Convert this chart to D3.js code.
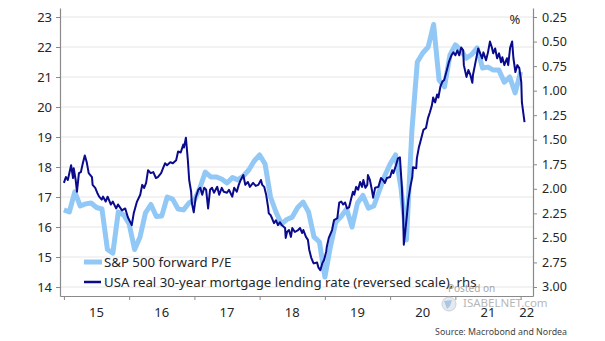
<!DOCTYPE html>
<html><head><meta charset="utf-8">
<script src="https://cdn.jsdelivr.net/npm/d3@7"></script>
<style>
body{margin:0;background:#fff}
svg{display:block}
text{font-family:"Noto Sans",sans-serif}
</style>
</head><body>
<svg id="chart" width="605" height="341"></svg>
<script>
// ---- DATA ----
const peMonths = [
"2015-01","2015-02","2015-03","2015-04","2015-05","2015-06","2015-07","2015-08","2015-09","2015-10","2015-11","2015-12",
"2016-01","2016-02","2016-03","2016-04","2016-05","2016-06","2016-07","2016-08","2016-09","2016-10","2016-11","2016-12",
"2017-01","2017-02","2017-03","2017-04","2017-05","2017-06","2017-07","2017-08","2017-09","2017-10","2017-11","2017-12",
"2018-01","2018-02","2018-03","2018-04","2018-05","2018-06","2018-07","2018-08","2018-09","2018-10","2018-11","2018-12",
"2019-01","2019-02","2019-03","2019-04","2019-05","2019-06","2019-07","2019-08","2019-09","2019-10","2019-11","2019-12",
"2020-01","2020-02","2020-03","2020-04","2020-05","2020-06","2020-07","2020-08","2020-09","2020-10","2020-11","2020-12",
"2021-01","2021-02","2021-03","2021-04","2021-05","2021-06","2021-07","2021-08","2021-09","2021-10","2021-11","2021-12",
"2022-01"];
const peValues = [
16.57,16.50,17.17,16.70,16.77,16.80,16.65,16.60,15.25,15.13,16.50,16.40,
16.10,15.25,15.67,16.47,16.75,16.35,16.37,17.00,16.93,16.60,16.57,16.80,
16.90,17.30,17.83,17.67,17.67,17.60,17.47,17.65,17.57,17.70,17.90,18.20,
18.40,18.10,17.00,16.50,16.10,16.25,16.33,16.65,16.83,16.50,15.67,15.50,
14.33,15.33,16.17,16.35,16.60,16.00,16.80,17.05,16.63,16.70,17.20,17.70,
18.10,18.40,17.30,15.57,19.20,21.50,21.80,22.00,22.75,20.90,20.67,21.73,
22.07,21.90,21.63,21.75,21.97,21.30,21.33,21.23,21.23,20.83,21.00,20.47,
21.17];

// dates as decimal years
const mortDates = [
2015.00,2015.03,2015.06,2015.11,2015.14,2015.15,2015.18,2015.20,2015.23,2015.26,2015.29,2015.32,2015.35,2015.38,2015.43,2015.44,2015.48,2015.51,2015.54,2015.58,2015.60,2015.64,2015.67,2015.72,2015.75,2015.80,2015.83,2015.89,2015.94,2015.98,
2016.04,2016.07,2016.12,2016.17,2016.20,2016.23,2016.26,2016.29,2016.33,2016.37,2016.41,2016.44,2016.49,2016.52,2016.55,2016.58,2016.63,2016.67,2016.72,2016.75,2016.79,2016.83,2016.84,2016.87,2016.90,2016.92,2016.95,2016.96,2016.99,
2017.02,2017.06,2017.09,2017.12,2017.15,2017.18,2017.21,2017.24,2017.27,2017.30,2017.35,2017.38,2017.42,2017.45,2017.50,2017.53,2017.58,2017.61,2017.65,2017.68,2017.71,2017.75,2017.78,2017.82,2017.85,2017.90,2017.94,2017.98,
2018.02,2018.04,2018.07,2018.10,2018.13,2018.14,2018.17,2018.19,2018.22,2018.25,2018.28,2018.31,2018.34,2018.39,2018.40,2018.42,2018.45,2018.48,2018.50,2018.54,2018.59,2018.62,2018.65,2018.67,2018.71,2018.74,2018.76,2018.79,2018.82,2018.83,2018.88,2018.90,2018.93,2018.96,2018.99,
2019.02,2019.03,2019.06,2019.11,2019.14,2019.19,2019.22,2019.25,2019.28,2019.31,2019.34,2019.37,2019.40,2019.43,2019.45,2019.48,2019.51,2019.54,2019.57,2019.59,2019.62,2019.65,2019.66,2019.69,2019.72,2019.74,2019.77,2019.82,2019.86,2019.89,2019.92,2019.95,
2020.00,2020.03,2020.05,2020.09,2020.12,2020.15,2020.18,2020.20,2020.21,2020.23,2020.26,2020.28,2020.31,2020.34,2020.35,2020.40,2020.41,2020.44,2020.46,2020.51,2020.55,2020.58,2020.61,2020.64,2020.66,2020.69,2020.72,2020.74,2020.77,2020.80,2020.83,2020.87,2020.90,2020.94,2020.97,
2021.00,2021.03,2021.06,2021.09,2021.12,2021.13,2021.17,2021.20,2021.23,2021.26,2021.27,2021.30,2021.33,2021.35,2021.38,2021.41,2021.43,2021.47,2021.50,2021.53,2021.56,2021.58,2021.61,2021.64,2021.67,2021.70,2021.72,2021.75,2021.79,2021.81,2021.84,2021.87,2021.89,2021.92,2021.95,2021.98,
2022.01,2022.02,2022.06];
const mortValues = [
1.94,1.88,1.91,1.76,1.89,1.79,1.91,2.03,1.84,1.83,1.74,1.66,1.73,1.84,1.88,1.96,1.99,2.04,2.08,2.11,2.08,2.13,2.08,2.16,2.13,2.20,2.16,2.22,2.20,2.29,
2.37,2.25,2.13,2.06,1.96,1.99,1.94,1.81,1.84,1.83,1.89,1.88,1.84,1.79,1.74,1.76,1.73,1.74,1.71,1.62,1.63,1.55,1.58,1.48,1.71,1.91,2.03,2.14,2.24,
2.09,2.01,1.99,2.06,1.99,2.01,2.20,2.01,1.99,2.04,1.98,2.06,1.99,2.03,2.04,2.01,2.08,1.99,2.03,1.96,1.91,1.86,1.96,1.93,1.98,1.94,1.97,1.96,
1.91,1.96,1.98,2.06,2.19,2.25,2.27,2.30,2.35,2.32,2.37,2.34,2.37,2.40,2.50,2.44,2.42,2.49,2.40,2.44,2.42,2.40,2.45,2.42,2.49,2.52,2.62,2.70,2.75,2.76,2.75,2.80,2.83,2.76,2.72,
2.64,2.59,2.50,2.42,2.32,2.30,2.14,2.13,2.16,2.14,2.20,2.19,2.11,2.03,2.06,1.98,2.01,1.93,1.98,1.91,1.99,1.96,1.86,1.91,2.01,2.09,1.99,1.98,1.89,1.91,1.94,1.89,
1.88,1.81,1.84,1.76,1.69,1.68,1.98,2.29,2.57,2.45,2.25,2.11,1.98,1.88,1.78,1.79,1.69,1.58,1.53,1.40,1.38,1.28,1.22,1.15,1.07,1.12,1.04,1.07,0.96,0.91,0.89,0.79,0.71,0.64,0.61,
0.64,0.59,0.64,0.56,0.59,0.74,0.86,0.79,0.84,0.92,0.84,0.74,0.64,0.57,0.62,0.67,0.61,0.69,0.61,0.50,0.56,0.62,0.57,0.67,0.62,0.71,0.66,0.74,0.67,0.74,0.56,0.50,0.67,0.81,0.74,0.77,
0.91,1.12,1.32];

const leftTicks = [14,15,16,17,18,19,20,21,22,23];
const rightTicks = [0.25,0.50,0.75,1.00,1.25,1.50,1.75,2.00,2.25,2.50,2.75,3.00];
const yearTicks = [2015,2016,2017,2018,2019,2020,2021,2022];
const yearLabels = ["15","16","17","18","19","20","21","22"];
const seriesNames = ["S&P 500 forward P/E","USA real 30-year mortgage lending rate (reversed scale), rhs"];
const sourceText = "Source: Macrobond and Nordea";
const colors = {pe:"#92c8f5", mort:"#0a0a8c", axis:"#8a8a8a", grid:"#e6e6e6", text:"#262626"};

// ---- SCALES ----
const svg = d3.select("#chart");
const xDomainEnd = 2022.19;
const x = d3.scaleLinear().domain([2014.94, xDomainEnd]).range([60, 533]);
const yL = d3.scaleLinear().domain([13.7, 23.3]).range([296, 8]);
const yR = d3.scaleLinear().domain([0.158, 3.092]).range([8, 296]);

const peData = peMonths.map((m,i)=>{const [yy,mm]=m.split("-").map(Number);return {t:yy+(mm-1)/12, v:peValues[i]};});
const mortData = mortDates.map((t,i)=>({t, v:mortValues[i]}));

// grid
svg.append("g").selectAll("line").data(leftTicks).join("line")
  .attr("x1",60).attr("x2",533)
  .attr("y1",d=>yL(d)).attr("y2",d=>yL(d))
  .attr("stroke",colors.grid).attr("stroke-width",1);

function styleAxis(g, fs){
  g.select(".domain").attr("stroke",colors.axis).attr("stroke-width",1.2);
  g.selectAll(".tick line").attr("stroke",colors.axis);
  g.selectAll(".tick text").attr("fill",colors.text).style("font-size",fs+"px").style("font-family","'Noto Sans',sans-serif");
}

const gL = svg.append("g").attr("transform","translate(60,0)")
  .call(d3.axisLeft(yL).tickValues(leftTicks).tickSize(4).tickPadding(4).tickSizeOuter(0));
styleAxis(gL,13);

const gR = svg.append("g").attr("transform","translate(533,0)")
  .call(d3.axisRight(yR).tickValues(rightTicks).tickFormat(d3.format(".2f")).tickSize(4).tickPadding(5).tickSizeOuter(0));
styleAxis(gR,12.5);

const gX = svg.append("g").attr("transform","translate(0,296)")
  .call(d3.axisBottom(x).tickValues(yearTicks).tickFormat("").tickSize(4).tickSizeOuter(0));
styleAxis(gX,13);

svg.append("g").selectAll("text").data(yearTicks).join("text")
  .attr("x",(d,i)=> i<yearTicks.length-1 ? x(d+0.5) : x((d+xDomainEnd)/2))
  .attr("y",317).attr("text-anchor","middle")
  .attr("fill",colors.text).style("font-size","13px")
  .text((d,i)=>yearLabels[i]);

// "%" unit
svg.append("text").attr("x",515).attr("y",24).attr("text-anchor","middle")
  .attr("fill",colors.text).style("font-size","13px").text("%");

// ---- LINES ----
const linePE = d3.line().x(d=>x(d.t)).y(d=>yL(d.v));
const lineM = d3.line().x(d=>x(d.t)).y(d=>yR(d.v));

svg.append("path").datum(peData).attr("d",linePE)
  .attr("fill","none").attr("stroke",colors.pe).attr("stroke-width",5)
  .attr("stroke-linejoin","round").attr("stroke-linecap","butt");
svg.append("path").datum(mortData).attr("d",lineM)
  .attr("fill","none").attr("stroke",colors.mort).attr("stroke-width",2)
  .attr("stroke-linejoin","round");

// ---- LEGEND ----
const leg = svg.append("g");
const legY = [262, 282];
leg.append("line").attr("x1",84).attr("x2",102).attr("y1",legY[0]).attr("y2",legY[0])
  .attr("stroke",colors.pe).attr("stroke-width",5);
leg.append("line").attr("x1",84).attr("x2",101).attr("y1",legY[1]).attr("y2",legY[1])
  .attr("stroke",colors.mort).attr("stroke-width",2.5);
const lt = leg.selectAll("text").data(seriesNames).join("text")
  .attr("x",104).attr("y",(d,i)=>legY[i]+5)
  .attr("fill",colors.text).style("font-size","14px").text(d=>d);
// fit legend font to measured width of long label
const l2 = lt.nodes()[1];
const w2 = l2.getComputedTextLength();
const legFs = 14*373/w2;
lt.style("font-size",legFs+"px");

// ---- SOURCE ----
const src = svg.append("text").attr("x",567).attr("y",335).attr("text-anchor","end")
  .attr("fill","#444").style("font-size","10px").text(sourceText);
const ws = src.node().getComputedTextLength();
src.style("font-size",(10*132/ws)+"px");

// ---- watermark ----
const wm = svg.append("g").attr("opacity",0.75);
wm.append("circle").attr("cx",449).attr("cy",304).attr("r",7).attr("fill","#dde3ea").attr("stroke","#b9c3cf");
wm.append("path").attr("d","M444,301 L452,300 L450,306 L447,309 Z").attr("fill","#8fb4d8");
wm.append("text").attr("x",448).attr("y",292).attr("fill","#8a8a8a").style("font-size","10px").text("Posted on");
wm.append("text").attr("x",463).attr("y",307).attr("fill","#a0a0a0").style("font-size","11.5px").text("ISABELNET.com");
</script>
</body></html>
